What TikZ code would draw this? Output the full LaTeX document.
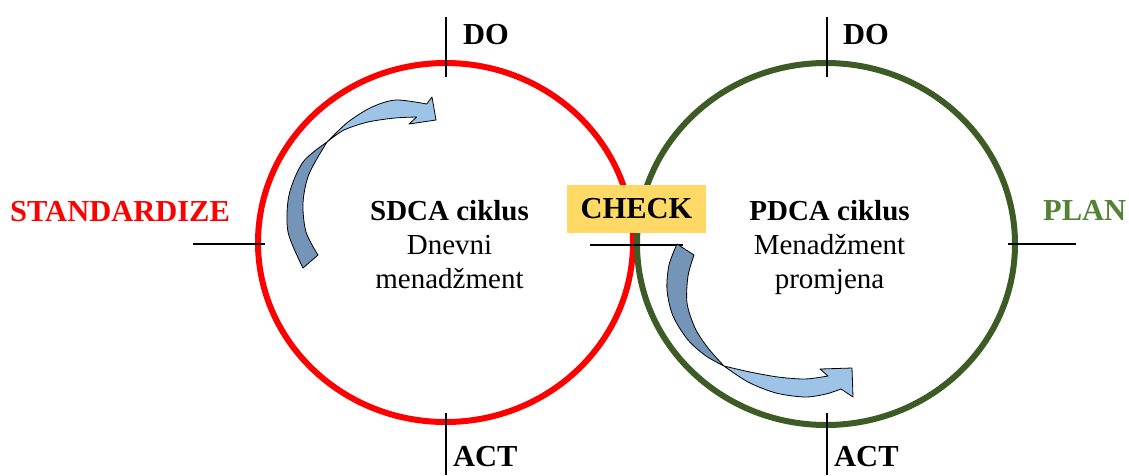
\documentclass[tikz,border=0pt]{standalone}
\usepackage{fontspec}
\setmainfont{Liberation Serif}
\definecolor{ringgreen}{RGB}{61,91,36}
\definecolor{plangreen}{RGB}{84,130,53}
\definecolor{checkgold}{RGB}{255,217,102}
\definecolor{arrowdark}{RGB}{116,149,184}
\definecolor{arrowlight}{RGB}{157,195,230}
\begin{document}
\begin{tikzpicture}[x=1pt,y=-1pt]
    \tikzstyle{tick} = [line width=1.2pt]
    \tikzstyle{phase} = [inner sep=0pt, font=\fontsize{30.5}{36}\selectfont\bfseries]
    \tikzstyle{inner} = [inner sep=0pt, anchor=base, font=\fontsize{29}{34}\selectfont]
    \tikzstyle{band} = [draw=black, line width=0.8pt, line join=round]
    \useasboundingbox (0,0) rectangle (1129,475);

    % Left circle (SDCA)
    \draw [red, line width=6pt] (445.5,242.5) ellipse [x radius=187.5, y radius=179.5];

    % Right circle (PDCA)
    \draw [ringgreen, line width=6pt] (826,244) ellipse [x radius=189, y radius=181];

    % Tick marks
    \draw [tick] (446,17) -- (446,77);
    \draw [tick] (446,413) -- (446,475);
    \draw [tick] (827,17) -- (827,77);
    \draw [tick] (827,413) -- (827,475);
    \draw [tick] (193,244) -- (265,244);
    \draw [tick] (590,245) -- (683,245);
    \draw [tick] (1008,244) -- (1076,244);

    % Phase labels
    \node [phase, anchor=base west] (DoLeft) at (463,44) {DO};
    \node [phase, anchor=base west] (DoRight) at (843,44) {DO};
    \node [phase, anchor=base west] (ActLeft) at (453,466) {ACT};
    \node [phase, anchor=base west] (ActRight) at (834,466) {ACT};
    \node [phase, anchor=base west, text=red] (Standardize) at (10,221) {STANDARDIZE};
    \node [phase, anchor=base west, text=plangreen] (Plan) at (1043,220) {PLAN};
    \node [phase, fill=checkgold, minimum width=139pt, minimum height=48pt] (Check) at (636.5,209) {CHECK};

    % Text inside the left circle
    \node [inner, font=\fontsize{29}{34}\selectfont\bfseries] (Sdca) at (449.5,220) {SDCA ciklus};
    \node [inner] (Dnevni) at (449.5,254) {Dnevni};
    \node [inner] (DnevniMen) at (449.5,288) {menadžment};

    % Text inside the right circle
    \node [inner, font=\fontsize{29}{34}\selectfont\bfseries] (Pdca) at (829.5,220) {PDCA ciklus};
    \node [inner] (PromMen) at (829.5,254) {Menadžment};
    \node [inner] (Promjena) at (829.5,288) {promjena};

    % Left curved arrow
    \filldraw [band, fill=arrowdark] plot [smooth] coordinates {(327,142) (303,162) (289,195) (288,232) (303,268)}
        -- plot [smooth] coordinates {(318,255) (306,232) (303,203) (309,174) (327,142)} -- cycle;
    \filldraw [band, fill=arrowlight] plot [smooth] coordinates {(327,142) (348,122) (372,107) (396,100) (426.7,104)}
        -- (432,97) -- (436,120) -- (409,124) -- (416.7,117)
        -- plot [smooth] coordinates {(416.7,117) (395,118) (368,122) (344,130) (327,142)} -- cycle;

    % Right curved arrow
    \filldraw [band, fill=arrowdark] plot [smooth] coordinates {(677,244) (669,265) (667,290) (673,316) (688,340) (706,356) (724,366)}
        -- plot [smooth] coordinates {(724,366) (708,348) (695,328) (687,303) (688,276) (694,255)} -- cycle;
    \filldraw [band, fill=arrowlight] plot [smooth] coordinates {(724,366) (748,382) (776,393) (805,397) (826,394) (841,389)}
        -- (853,397) -- (852,368) -- (820,369) -- (828,376)
        -- plot [smooth] coordinates {(828,376) (805,379) (778,377) (750,372) (724,366)} -- cycle;
\end{tikzpicture}
\end{document}
